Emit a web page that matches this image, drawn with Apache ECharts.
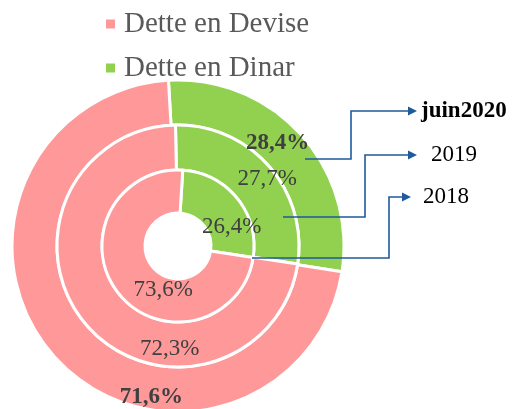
<!DOCTYPE html>
<html>
<head>
<meta charset="utf-8">
<script src="https://cdn.jsdelivr.net/npm/echarts@6/dist/echarts.min.js"></script>
<style>html,body{margin:0;padding:0;background:#fff}#c{width:512px;height:409px}</style>
</head>
<body>
<div id="c"></div>
<script>
// Data
const categories = ['Dette en Dinar', 'Dette en Devise'];
const legendOrder = ['Dette en Devise', 'Dette en Dinar'];
const years = ['juin2020', '2019', '2018'];
const dinarShare = [28.4, 27.7, 26.4];
const deviseShare = [71.6, 72.3, 73.6];

const COLORS = { 'Dette en Dinar': '#92D050', 'Dette en Devise': '#FF9999' };
const FONT = 'Liberation Serif';
const center = [178, 246];
const rings = [ // outer -> inner, matching years order
  { r: [121, 166], start: 93.3, bold: true },
  { r: [76, 121], start: 91.2, bold: false },
  { r: [33, 76], start: 86.4, bold: false }
];
// label nudges [dinar, devise]
const labelShift = [
  [[-9, -5], [82, 53]],
  [[13, 0], [68, 36]],
  [[9, 17], [30, 8]]
];

const fmt = v => v.toFixed(1).replace('.', ',') + '%';

const series = years.map((y, i) => ({
  type: 'pie',
  name: y,
  center: center,
  radius: rings[i].r,
  startAngle: rings[i].start,
  clockwise: true,
  animation: false,
  silent: true,
  z: 2,
  avoidLabelOverlap: false,
  itemStyle: { borderColor: '#fff', borderWidth: 3 },
  label: {
    show: true,
    position: 'inside',
    formatter: p => fmt(p.value),
    fontFamily: FONT,
    fontSize: 23,
    fontWeight: rings[i].bold ? 'bold' : 'normal',
    color: '#404040'
  },
  labelLine: { show: false },
  labelLayout: p => {
    const s = labelShift[i][p.dataIndex];
    return { dx: s[0], dy: s[1] };
  },
  emphasis: { disabled: true },
  data: [
    { name: categories[0], value: dinarShare[i], itemStyle: { color: COLORS[categories[0]] } },
    { name: categories[1], value: deviseShare[i], itemStyle: { color: COLORS[categories[1]] } }
  ]
}));

// Callout annotations: start point inside each ring, elbow, arrow to year label
const callouts = [
  { from: [305, 159], elbowX: 351, to: [417, 111], bold: true },
  { from: [283, 217], elbowX: 365, to: [417, 155], bold: false },
  { from: [252, 258], elbowX: 389, to: [411, 197], bold: false }
];
const LINE = '#1F5A9C';
const graphic = [];
callouts.forEach((c, i) => {
  graphic.push({
    type: 'polyline', silent: true, z: 100,
    shape: { points: [c.from, [c.elbowX, c.from[1]], [c.elbowX, c.to[1]], [c.to[0] - 8, c.to[1]]] },
    style: { stroke: LINE, lineWidth: 1.6, fill: null }
  });
  graphic.push({
    type: 'polygon', silent: true, z: 100,
    shape: { points: [[c.to[0] - 9, c.to[1] - 4.5], [c.to[0], c.to[1]], [c.to[0] - 9, c.to[1] + 4.5]] },
    style: { fill: LINE }
  });
  graphic.push({
    type: 'text', silent: true, z: 100,
    x: c.to[0] + (i === 0 ? 4 : (i === 1 ? 14 : 12)), y: c.to[1],
    style: {
      text: years[i], fontFamily: FONT, fontSize: 23,
      fontWeight: c.bold ? 'bold' : 'normal', fill: '#000',
      verticalAlign: 'middle', align: 'left'
    }
  });
});

const chart = echarts.init(document.getElementById('c'), null, { renderer: 'canvas' });
chart.setOption({
  animation: false,
  backgroundColor: '#fff',
  textStyle: { fontFamily: FONT },
  legend: {
    data: legendOrder,
    orient: 'vertical',
    left: 104,
    top: 9,
    padding: 0,
    itemWidth: 11,
    itemHeight: 11,
    itemGap: 14,
    icon: 'rect',
    selectedMode: false,
    textStyle: { fontFamily: FONT, fontSize: 29, color: '#595959', lineHeight: 30, padding: [0, 0, 0, 3] }
  },
  series: series,
  graphic: graphic
});
</script>
</body>
</html>
